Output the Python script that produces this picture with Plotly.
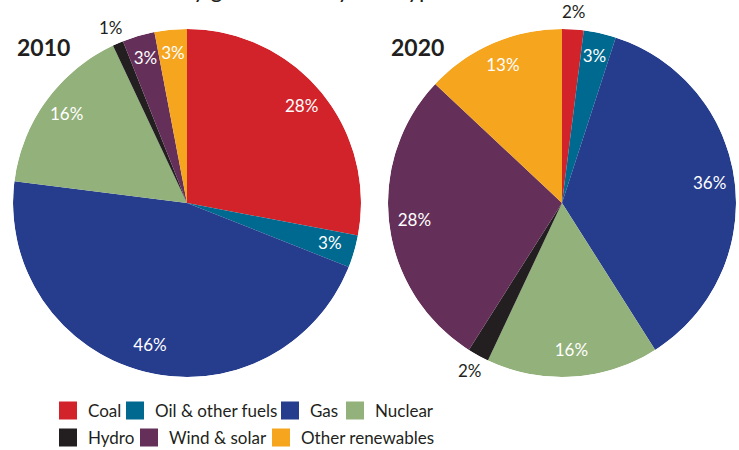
import math
import plotly.graph_objects as go

# ---- data -------------------------------------------------------------
categories = ["Coal", "Oil & other fuels", "Gas", "Nuclear",
              "Hydro", "Wind & solar", "Other renewables"]
years = ["2010", "2020"]
share_2010 = [28, 3, 46, 16, 1, 3, 3]     # % of generation
share_2020 = [2, 3, 36, 16, 2, 28, 13]    # % of generation
shares = [share_2010, share_2020]

# ---- styling ----------------------------------------------------------
colors = ["#d2232a", "#00698f", "#263c8d", "#93b17b",
          "#231f20", "#643059", "#f6a51e"]
INK = "#231f20"
FONT = "Lato"
W, H = 739, 450
INSIDE_R = 0.855      # label radius (fraction of pie radius) inside a slice
OUTSIDE_R = 1.1       # label radius for slices too thin to hold text
SMALL = 2             # slices of this share or less are labelled outside

# legend rows and per-entry spacing (px) so entries sit like a typeset key
legend_rows = [[0, 1, 2, 3], [4, 5, 6]]
entry_widths = [22, 110, 20, None, 36, 87, None]


def px_domain(x0, x1, y0, y1):
    """Convert a pixel box (top-left origin) into paper domain fractions."""
    return dict(x=[x0 / W, x1 / W], y=[1 - y1 / H, 1 - y0 / H])


pie_px = [(13, 361, 29, 377), (388, 736, 29, 377)]
pie_boxes = [px_domain(*b) for b in pie_px]
polar_ids = ["polar", "polar2"]

fig = go.Figure()
annotations = []

for k, (vals, pid) in enumerate(zip(shares, polar_ids)):
    # angular positions: each slice spans its share of 360 degrees
    widths, mids, start = [], [], 0.0
    for v in vals:
        widths.append(v * 3.6)
        mids.append((start + v / 2) * 3.6)
        start += v

    fig.add_trace(go.Barpolar(
        r=[1] * len(vals), theta=mids, width=widths, base=0,
        marker=dict(color=colors, line=dict(width=0)),
        customdata=[[c, v] for c, v in zip(categories, vals)],
        hovertemplate="%{customdata[0]}: %{customdata[1]}%<extra>" + years[k] + "</extra>",
        subplot=pid, showlegend=False,
    ))

    # value labels that fit inside their slice
    inside = [v > SMALL for v in vals]
    fig.add_trace(go.Scatterpolar(
        r=[INSIDE_R if ok else None for ok in inside], theta=mids,
        mode="text", text=[f"{v}%" for v in vals],
        textfont=dict(family=FONT, size=17, color="white"),
        hoverinfo="skip", showlegend=False, subplot=pid,
    ))

    # thin slices: label sits just beyond the rim, along the slice's mid-angle
    x0, x1, y0, y1 = pie_px[k]
    cx, cy, rad = (x0 + x1) / 2, (y0 + y1) / 2, (x1 - x0) / 2
    for v, th, ok in zip(vals, mids, inside):
        if ok:
            continue
        a = math.radians(th)
        px = cx + rad * OUTSIDE_R * math.sin(a)
        py = cy - rad * OUTSIDE_R * math.cos(a)
        annotations.append(dict(
            text=f"{v}%", x=px / W, y=1 - py / H, xref="paper", yref="paper",
            xanchor="center", yanchor="middle", showarrow=False,
            font=dict(family=FONT, size=17, color=INK),
        ))

# legend keys (one entry per fuel, split over two legend rows)
for row_no, row in enumerate(legend_rows):
    lid = "legend" if row_no == 0 else f"legend{row_no + 1}"
    for i in row:
        fig.add_trace(go.Scatterpolar(
            r=[None], theta=[None], mode="markers", name=categories[i],
            marker=dict(symbol="square", size=16, color=colors[i],
                        line=dict(width=2, color=colors[i])),
            legend=lid, legendwidth=entry_widths[i], subplot="polar",
            hoverinfo="skip",
        ))

polar_common = dict(
    bgcolor="rgba(0,0,0,0)", hole=0, bargap=0,
    angularaxis=dict(visible=False, rotation=90, direction="clockwise"),
    radialaxis=dict(visible=False, range=[0, 1]),
)

legend_common = dict(
    orientation="h", xanchor="left", yanchor="middle",
    font=dict(family=FONT, size=17, color=INK),
    bgcolor="rgba(0,0,0,0)", borderwidth=0, itemclick="toggle",
    tracegroupgap=0,
)

annotations.append(dict(
    text="Share of electricity generation by fuel type",
    x=15 / W, y=1 - 5 / H, xref="paper", yref="paper",
    xanchor="left", yanchor="bottom", showarrow=False,
    font=dict(family=FONT, size=23, color=INK)))
for yr, xpx in zip(years, [15, 389]):
    annotations.append(dict(
        text=f"<b>{yr}</b>", x=xpx / W, y=1 - 63 / H,
        xref="paper", yref="paper", xanchor="left", yanchor="bottom",
        showarrow=False, font=dict(family=FONT, size=23, color=INK),
    ))

fig.update_layout(
    width=W, height=H,
    margin=dict(l=0, r=0, t=0, b=0, autoexpand=False),
    paper_bgcolor="white", plot_bgcolor="white",
    font=dict(family=FONT, color=INK),
    polar=dict(domain=pie_boxes[0], **polar_common),
    polar2=dict(domain=pie_boxes[1], **polar_common),
    legend=dict(x=48 / W, y=1 - 411 / H, **legend_common),
    legend2=dict(x=48 / W, y=1 - 438 / H, **legend_common),
    annotations=annotations,
    showlegend=True,
)

fig.write_html("out.html")
